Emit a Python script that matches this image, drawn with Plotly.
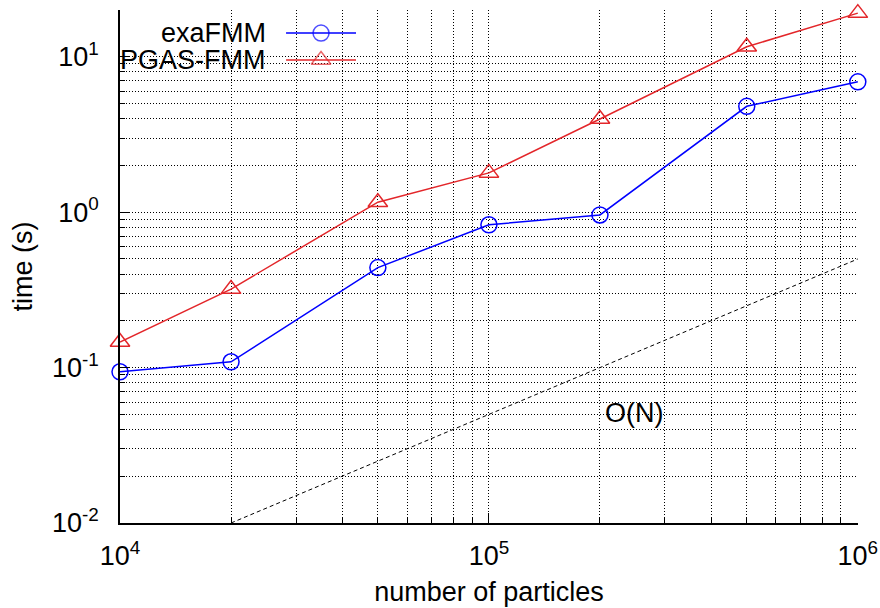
import plotly.graph_objects as go

# ---- data ----
particles = [1e4, 2e4, 5e4, 1e5, 2e5, 5e5, 1e6]
exafmm_time = [0.094, 0.109, 0.44, 0.83, 0.96, 4.8, 6.9]
pgas_time = [0.146, 0.32, 1.16, 1.79, 3.98, 11.6, 19.1]
on_x = [2e4, 1e6]
on_y = [0.01, 0.5]
series_names = ["exaFMM", "PGAS-FMM"]
on_label = "O(N)"
x_title = "number of particles"
y_title = "time (s)"
x_tickvals = [1e4, 1e5, 1e6]
x_ticktext = ["10<sup>4</sup>", "10<sup>5</sup>", "10<sup>6</sup>"]
y_tickvals = [1e-2, 1e-1, 1e0, 1e1]
y_ticktext = ["10<sup>-2</sup>", "10<sup>-1</sup>", "10<sup>0</sup>", "10<sup>1</sup>"]

BLUE = "#0000ff"
RED = "#e3262a"
FONT = "Liberation Sans, Arial, sans-serif"
FS = 27

fig = go.Figure()

fig.add_trace(go.Scatter(
    x=on_x, y=on_y, mode="lines",
    line=dict(color="black", width=1, dash="4px,3px"),
    showlegend=False, hoverinfo="skip"))

fig.add_trace(go.Scatter(
    x=particles, y=exafmm_time, mode="lines+markers", name=series_names[0],
    line=dict(color=BLUE, width=1.5),
    marker=dict(symbol="circle-open", size=16, color=BLUE, line=dict(width=1.5, color=BLUE)),
    showlegend=False, cliponaxis=False))

fig.add_trace(go.Scatter(
    x=particles, y=pgas_time, mode="lines+markers", name=series_names[1],
    line=dict(color=RED, width=1.5),
    marker=dict(symbol="triangle-up-open", size=17, color=RED, line=dict(width=1.5, color=RED)),
    showlegend=False, cliponaxis=False))

# ---- custom gnuplot-style legend (text right, sample on right) ----
leg_rows = [0.955, 0.9025]
leg_colors = [BLUE, RED]
leg_symbols = ["circle-open", "triangle-up-open"]
leg_sizes = [16, 17]
for name, yy, col, sym, sz in zip(series_names, leg_rows, leg_colors, leg_symbols, leg_sizes):
    fig.add_trace(go.Scatter(
        x=[0.225, 0.2724, 0.3198], y=[yy, yy, yy], mode="lines+markers",
        xaxis="x2", yaxis="y2",
        line=dict(color=col, width=1.5),
        marker=dict(symbol=sym, size=[0, sz, 0], color=col, line=dict(width=1.5, color=col)),
        showlegend=False, hoverinfo="skip", cliponaxis=False))
    fig.add_annotation(x=0.2005, y=yy, xref="paper", yref="paper", text=name,
                       showarrow=False, xanchor="right", yanchor="middle",
                       font=dict(family=FONT, size=FS, color="black"))

# O(N) label (log axes: annotation positions are log10 values)
fig.add_annotation(x=5.393, y=-1.292, xref="x", yref="y", text=on_label,
                   showarrow=False, xanchor="center", yanchor="middle",
                   font=dict(family=FONT, size=FS, color="black"))

common = dict(
    type="log", tickmode="array", automargin=False,
    ticks="inside", ticklen=10, tickwidth=1, tickcolor="black",
    showline=True, linecolor="black", linewidth=1.5, mirror=False,
    zeroline=False,
    tickfont=dict(family=FONT, size=FS, color="black"),
    showgrid=True, gridcolor="black", gridwidth=1, griddash="1px,2px",
    minor=dict(dtick="D1", ticks="inside", ticklen=5, tickcolor="black",
               showgrid=True, gridcolor="black", gridwidth=1, griddash="1px,2px"),
)

fig.update_layout(
    width=880, height=608,
    margin=dict(l=120, r=22, t=10, b=85),
    paper_bgcolor="white", plot_bgcolor="white",
    font=dict(family=FONT, size=FS, color="black"),
    xaxis=dict(range=[4, 6.0005], tickvals=x_tickvals, ticktext=x_ticktext,
               title=dict(text=x_title, font=dict(family=FONT, size=FS), standoff=12),
               ticklabelstandoff=8, **common),
    yaxis=dict(range=[-2, 1.30103], tickvals=y_tickvals, ticktext=y_ticktext,
               title=dict(text=y_title, font=dict(family=FONT, size=FS), standoff=12),
               ticklabelstandoff=14, **common),
    xaxis2=dict(range=[0, 1], overlaying="x", visible=False),
    yaxis2=dict(range=[0, 1], overlaying="y", visible=False),
    showlegend=False,
)

fig.write_html("out.html")
